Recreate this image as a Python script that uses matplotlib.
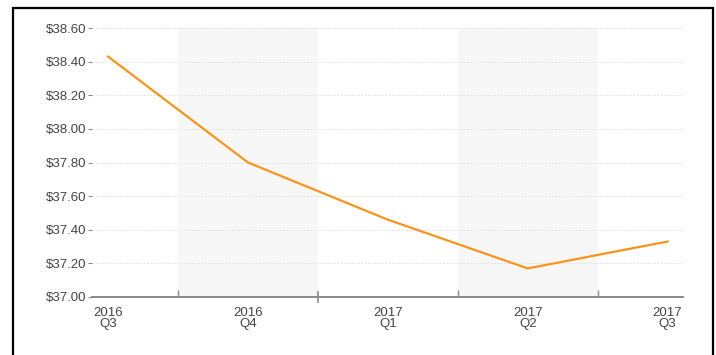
import matplotlib.pyplot as plt
import matplotlib.transforms as mtransforms
from matplotlib.patches import Rectangle
import numpy as np

# quarters and average price
years = ['2016', '2016', '2017', '2017', '2017']
quarters = ['Q3', 'Q4', 'Q1', 'Q2', 'Q3']
price = [38.43, 37.80, 37.46, 37.17, 37.33]

yticks = np.arange(37.0, 38.61, 0.2)
shaded = [1, 3]          # alternating quarter bands
year_break = 1.5         # boundary between 2016 and 2017

plt.rcParams['font.family'] = ['Liberation Sans', 'DejaVu Sans']

fig = plt.figure(figsize=(7.16, 3.55), dpi=100)
# outer black frame
fig.patches.append(Rectangle((12.5 / 716, -0.1), 700 / 716, 1.1 - 8 / 355,
                             transform=fig.transFigure, fill=False,
                             edgecolor='black', linewidth=1.6))

ax = fig.add_axes([92 / 716, 1 - 297 / 355, 591 / 716, 269 / 355])
x = np.arange(len(price))

for s in shaded:
    ax.axvspan(s - 0.5, s + 0.5, color='#f7f7f7', zorder=0, lw=0)

for v in yticks[1:]:
    ax.axhline(v, color='#e2e2e2', lw=0.7, ls=(0, (2, 1.5)), zorder=1)

ax.plot(x, price, color='#f7941d', lw=1.6, zorder=3)

ax.set_xlim(-0.115, len(price) - 1 + 0.11)
ax.set_ylim(37.0, 38.6)
ax.set_yticks(yticks)
ax.set_yticklabels([f'${v:.2f}' for v in yticks])
ax.set_xticks(x)
ax.set_xticklabels([f'{y}\n{q}' for y, q in zip(years, quarters)], linespacing=0.95)
ax.set_xticks([0.5, 2.5, 3.5], minor=True)

for side in ['top', 'right', 'left']:
    ax.spines[side].set_visible(False)
ax.spines['bottom'].set_color('#8a8a8a')
ax.spines['bottom'].set_linewidth(1.4)

ax.tick_params(axis='y', length=3, color='#8a8a8a', labelsize=9.5,
               labelcolor='#444444', pad=1)
ax.tick_params(axis='x', which='major', length=0, labelsize=9.5,
               labelcolor='#444444', pad=7)
ax.tick_params(axis='x', which='minor', direction='in', length=5,
               color='#8a8a8a', width=1)

# year boundary tick crosses the axis
trans = mtransforms.blended_transform_factory(ax.transData, ax.transAxes)
ax.plot([year_break, year_break], [-0.02, 0.018], transform=trans,
        color='#8a8a8a', lw=1.2, clip_on=False)

fig.savefig('out.png', dpi=100)
